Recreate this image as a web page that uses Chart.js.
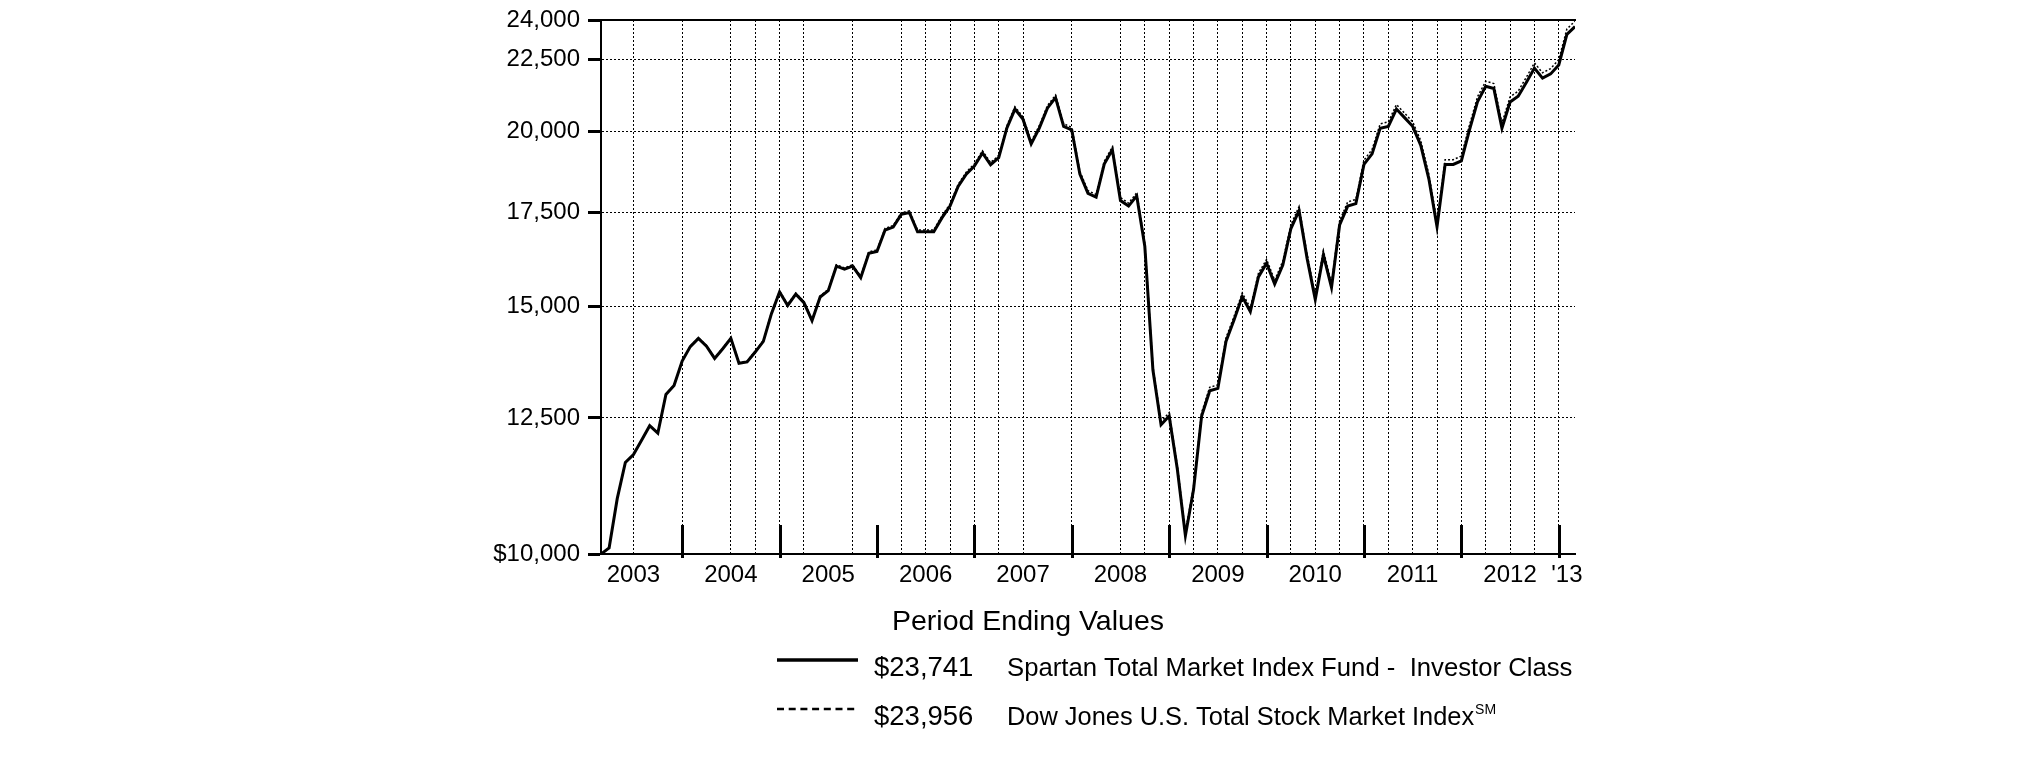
<!DOCTYPE html>
<html>
<head>
<meta charset="utf-8">
<script src="https://cdn.jsdelivr.net/npm/chart.js@4/dist/chart.umd.min.js"></script>
<style>
html,body{margin:0;padding:0;background:#fff;}
#wrap{position:relative;width:2025px;height:761px;}
</style>
</head>
<body>
<div id="wrap"><canvas id="c"></canvas></div>
<script>
// Monthly values, Feb 2003 (index 0) through Feb 2013 (index 120)
const fundValues = [
  10000,10100,10950,11620,11770,12050,12340,12190,12990,13180,13720,
  14050,14240,14060,13780,14000,14240,13670,13700,13925,14170,14830,15365,
  15030,15310,15100,14660,15240,15400,16030,15950,16030,15730,16370,16420,
  17010,17090,17450,17500,16960,16960,16960,17350,17690,18270,18640,18890,
  19300,18930,19150,20100,20740,20390,19590,20100,20770,21130,20160,20040,
  18640,18060,17950,18950,19400,17850,17690,17990,16560,13520,12360,12540,
  11500,10305,11110,12540,13070,13120,14170,14680,15250,14880,15750,16110,
  15570,16060,17050,17560,16230,15180,16330,15480,17150,17690,17760,18940,
  19270,20100,20160,20740,20450,20160,19540,18490,17100,18940,18940,19050,
  20040,21000,21530,21450,20100,20980,21180,21660,22180,21820,21970,22290,
  23440,23741
];
const indexValues = [
  10000,10100,10952,11623,11774,12055,12346,12196,12998,13189,13730,
  14062,14253,14074,13795,14016,14257,13687,13719,13945,14191,14853,15390,
  15056,15338,15128,14689,15271,15432,16065,15986,16067,15768,16411,16462,
  17055,17136,17498,17550,17010,17011,17012,17405,17747,18330,18703,18955,
  19368,18998,19220,20175,20819,20470,19668,20181,20856,21219,20246,20127,
  18722,18141,18032,19038,19492,17936,17776,18079,16643,13589,12424,12606,
  11561,10361,11171,12610,13144,13195,14252,14766,15340,14969,15846,16209,
  15667,16161,17159,17673,16336,15280,16439,15585,17267,17812,17884,19074,
  19407,20245,20307,20892,20602,20311,19688,18631,17232,19088,19089,19201,
  20201,21170,21706,21627,20267,21156,21360,21845,22371,22010,22163,22487,
  23649,23956
];
const yTicks = [10000,12500,15000,17500,20000,22500,24000];
const yTickLabels = ['$10,000','12,500','15,000','17,500','20,000','22,500','24,000'];
const yearLabels = ['2003','2004','2005','2006','2007','2008','2009','2010','2011','2012',"'13"];
const legendTitle = 'Period Ending Values';
const seriesNames = ['Spartan Total Market Index Fund -  Investor Class','Dow Jones U.S. Total Stock Market Index'];
const endValues = ['$23,741','$23,956'];
const indexMark = 'SM';

const FONT = "'Liberation Sans', Arial, Helvetica, sans-serif";
Chart.defaults.font.family = FONT;
Chart.defaults.color = '#000';

// quarter-end months (index from Feb 2003) that carry a visible dotted gridline
const gridMonths = [4,10,16,19,22,25,31,37,40,43,46,49,52,58,64,67,70,73,76,79,82,85,88,91,94,97,100,103,106,109,112,115,118];
const labelMonth = i => (i < 10 ? i * 12 + 4 : 119);
const yearEndMonth = i => i * 12 + 10;

const yearTicksPlugin = {
  id: 'yearTicks',
  afterDatasetsDraw(chart) {
    const xs = chart.scales.x;
    const {ctx, chartArea} = chart;
    ctx.save();
    ctx.strokeStyle = '#000';
    ctx.lineWidth = 3;
    for (let i = 0; i < 10; i++) {
      const px = Math.round(xs.getPixelForValue(yearEndMonth(i))) + 0.5;
      ctx.beginPath();
      ctx.moveTo(px, chartArea.bottom - 29);
      ctx.lineTo(px, chartArea.bottom + 4);
      ctx.stroke();
    }
    ctx.restore();
  }
};

const legendPlugin = {
  id: 'legendText',
  afterDraw(chart) {
    const ctx = chart.ctx;
    ctx.save();
    ctx.fillStyle = '#000';
    ctx.strokeStyle = '#000';
    ctx.textBaseline = 'alphabetic';
    ctx.textAlign = 'left';
    ctx.font = '28.5px ' + FONT;
    ctx.fillText(legendTitle, 892, 630);

    ctx.lineWidth = 3.3;
    ctx.beginPath(); ctx.moveTo(777, 660); ctx.lineTo(858, 660); ctx.stroke();
    ctx.font = '27.5px ' + FONT;
    ctx.fillText(endValues[0], 874, 676);
    ctx.font = '25.7px ' + FONT;
    ctx.fillText(seriesNames[0], 1007, 676);

    ctx.lineWidth = 2.6;
    ctx.setLineDash([7, 4.7]);
    ctx.beginPath(); ctx.moveTo(777, 709); ctx.lineTo(858, 709); ctx.stroke();
    ctx.setLineDash([]);
    ctx.font = '27.5px ' + FONT;
    ctx.fillText(endValues[1], 874, 725);
    ctx.font = '25.4px ' + FONT;
    ctx.fillText(seriesNames[1], 1007, 725);
    const w = ctx.measureText(seriesNames[1]).width;
    ctx.font = '14px ' + FONT;
    ctx.fillText(indexMark, 1007 + w + 1, 714);
    ctx.restore();
  }
};

new Chart(document.getElementById('c'), {
  type: 'line',
  data: {
    datasets: [
      {
        label: seriesNames[0],
        data: fundValues.map((v, i) => ({x: i, y: v})),
        borderColor: '#000',
        borderWidth: 3,
        pointRadius: 0,
        tension: 0,
        fill: false,
        order: 1
      },
      {
        label: seriesNames[1],
        data: indexValues.map((v, i) => ({x: i, y: v})),
        borderColor: '#000',
        borderWidth: 1.5,
        borderDash: [2, 2],
        pointRadius: 0,
        tension: 0,
        fill: false,
        order: 0
      }
    ]
  },
  options: {
    responsive: true,
    maintainAspectRatio: false,
    animation: false,
    layout: {padding: {top: 14, right: 450, bottom: 0, left: 0}},
    plugins: {legend: {display: false}, tooltip: {enabled: false}},
    scales: {
      x: {
        type: 'linear', position: 'bottom', min: 0, max: 120,
        afterBuildTicks: s => { s.ticks = yearLabels.map((l, i) => ({value: labelMonth(i)})); },
        afterFit: s => { s.height = 207; },
        ticks: {autoSkip: false, maxRotation: 0, padding: 9, color: '#000',
                font: {size: 24, lineHeight: 1},
                callback: (v, i) => yearLabels[i]},
        grid: {display: false, drawTicks: false},
        border: {display: true, color: '#000', width: 2}
      },
      xg: {
        type: 'linear', position: 'bottom', min: 0, max: 120,
        afterBuildTicks: s => { s.ticks = gridMonths.map(v => ({value: v})); },
        afterFit: s => { s.height = 0; },
        ticks: {display: false},
        grid: {display: true, drawOnChartArea: true, drawTicks: false, color: '#000', lineWidth: 1},
        border: {display: false, dash: [2, 2]}
      },
      xt: {
        type: 'linear', position: 'top', min: 0, max: 120,
        afterFit: s => { s.height = 0; },
        ticks: {display: false},
        grid: {display: false, drawTicks: false},
        border: {display: true, color: '#000', width: 2}
      },
      y: {
        type: 'logarithmic', position: 'left', min: 10000, max: 24000, bounds: 'data',
        afterBuildTicks: s => { s.ticks = yTicks.map(v => ({value: v})); },
        afterFit: s => { s.width = 601; },
        ticks: {autoSkip: false, padding: 8, color: '#000',
                font: {size: 24, lineHeight: 1},
                callback: (v, i) => yTickLabels[i]},
        grid: {
          color: c => (c.index === 0 || c.index === yTicks.length - 1) ? 'rgba(0,0,0,0)' : '#000',
          lineWidth: 1, drawTicks: true, tickLength: 13, tickWidth: 3,
          tickColor: '#000', tickBorderDash: []
        },
        border: {display: true, color: '#000', width: 2, dash: [2, 2]}
      }
    }
  },
  plugins: [yearTicksPlugin, legendPlugin]
});
</script>
</body>
</html>
